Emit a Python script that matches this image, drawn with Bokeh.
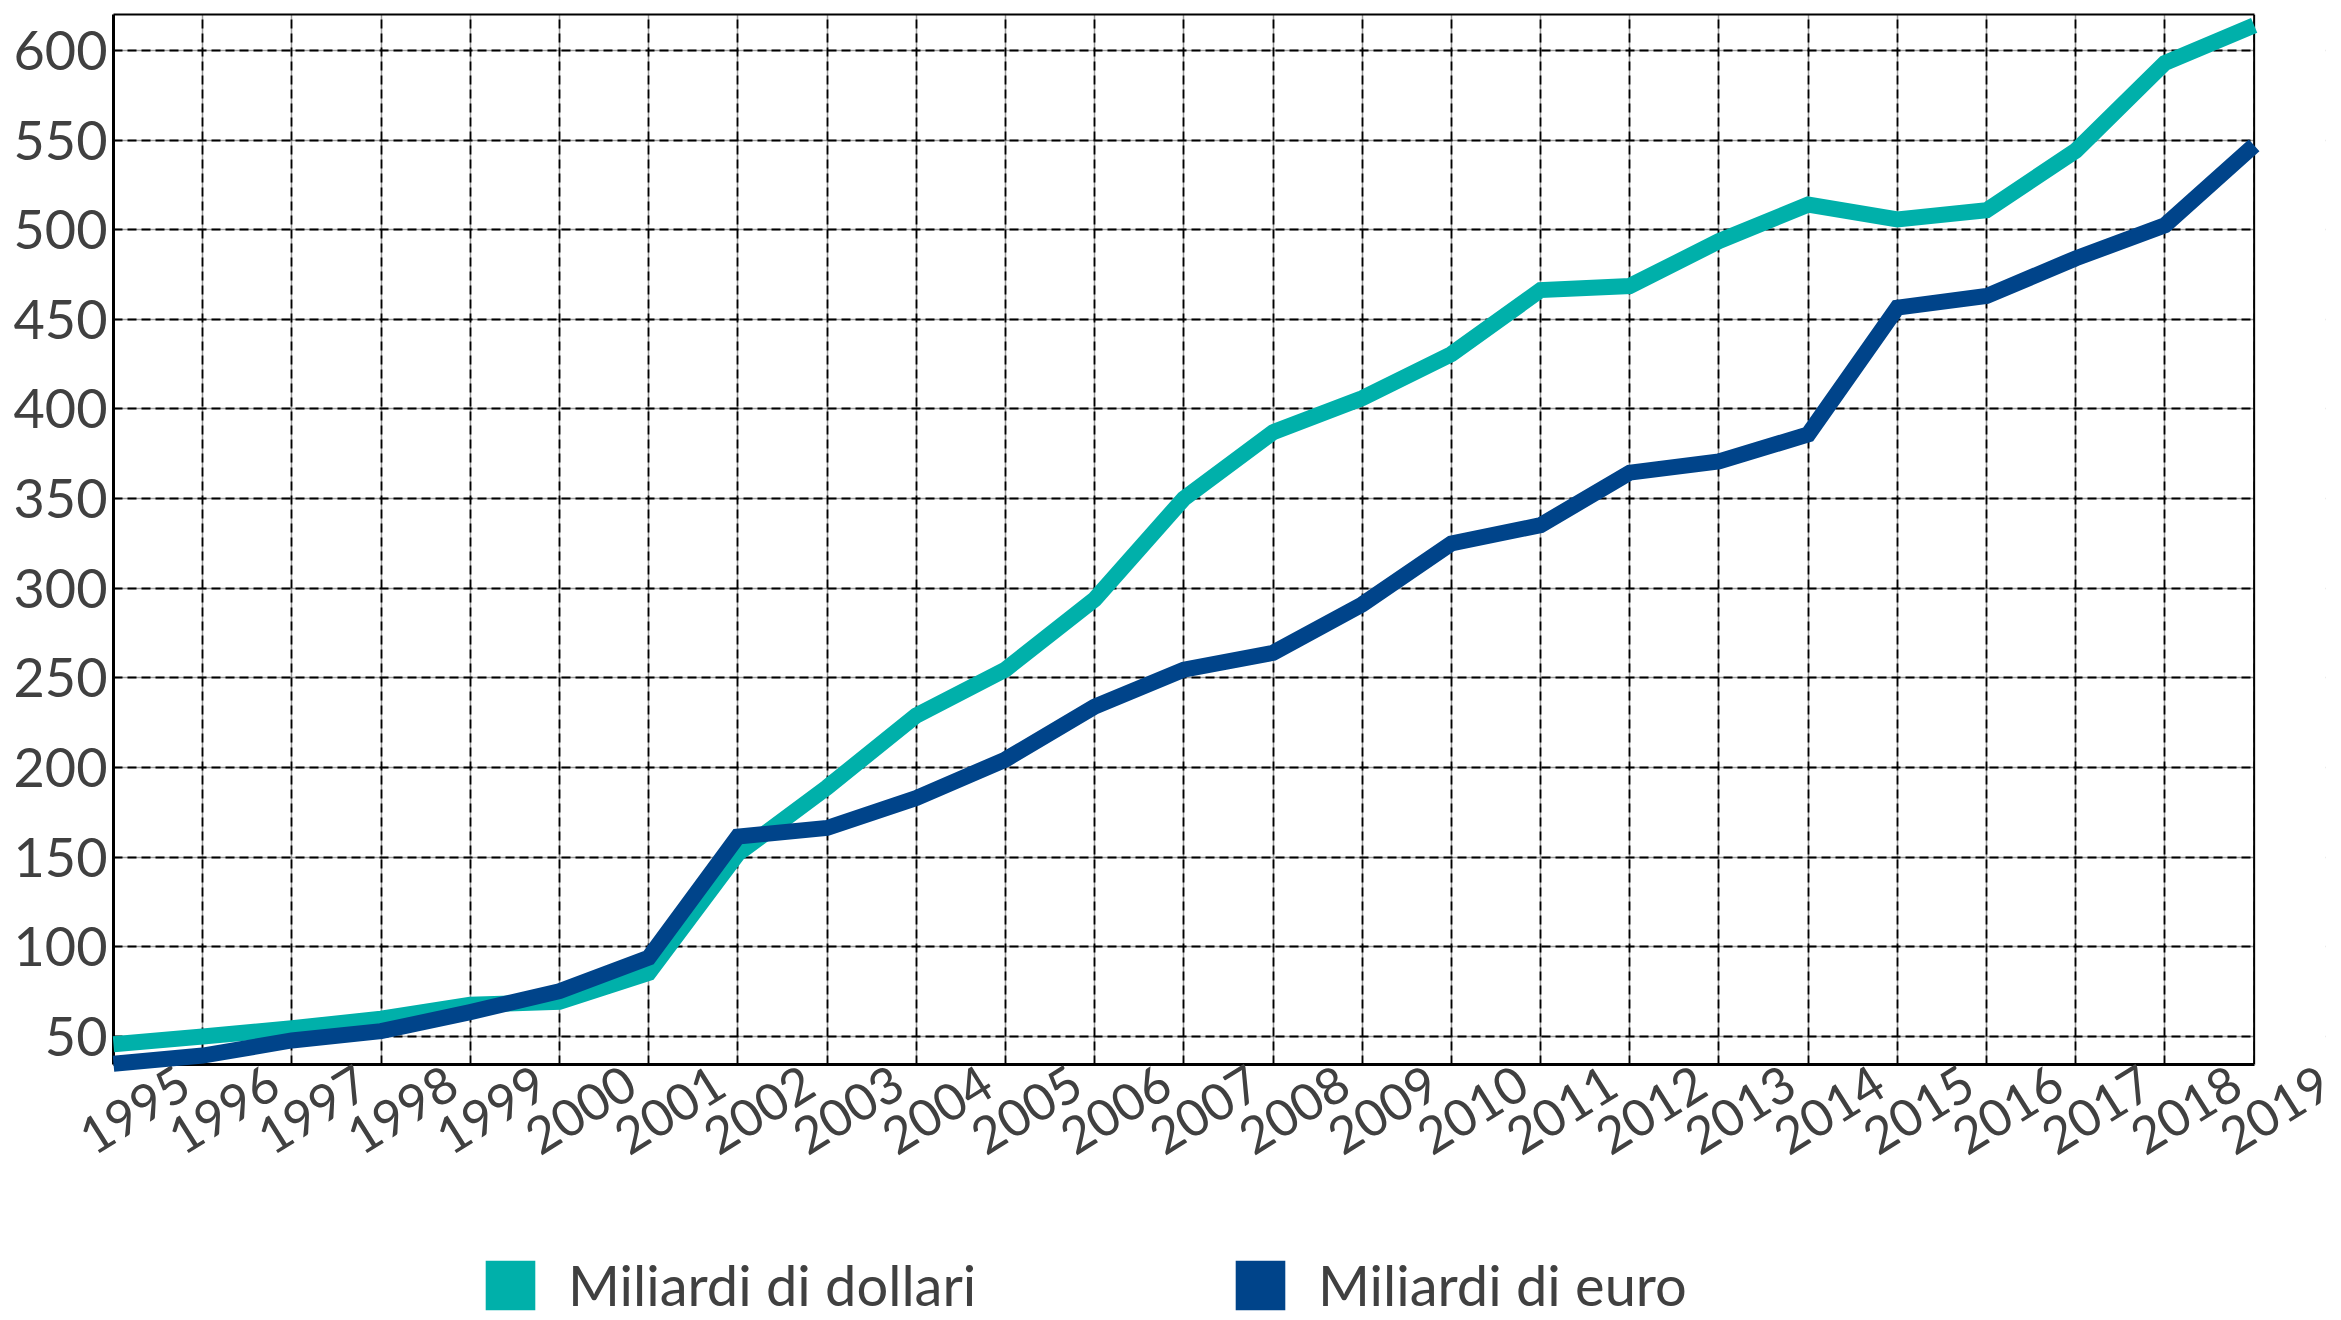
from bokeh.plotting import figure
from bokeh.layouts import column
from bokeh.models import (FixedTicker, Grid, Legend, LegendItem, Range1d,
                          LinearAxis, Span, BoxAnnotation)
from bokeh.embed import file_html
from bokeh.resources import INLINE

years = list(range(1995, 2020))
dollari = [45.7, 50, 54.6, 60, 67.7, 69.4, 85.5, 152, 189, 229, 254.7, 293.8, 350,
           387, 406, 430.6, 466.3, 468.6, 493.6, 514, 505.7, 510.8, 544, 593, 614]
euro = [34.8, 39.4, 47.8, 53, 63.6, 75.3, 94, 161.5, 166.3, 183, 204.5, 234, 254.6,
        264, 291, 325, 335.2, 364.5, 370.8, 385.8, 456.5, 463, 484, 502.5, 547]
y_ticks = [50, 100, 150, 200, 250, 300, 350, 400, 450, 500, 550, 600]
series_names = ["Miliardi di dollari", "Miliardi di euro"]
colors = ["#00B0AA", "#00448A"]

FONT = "Lato"
TXT = "#404040"
SHIFT = 0.8          # tick labels sit to the right of their tick (in years)
X0, X1 = years[0], years[-1]

W = 2341
p = figure(width=W, height=1230, output_backend="svg", toolbar_location=None,
           x_range=Range1d(X0, X1 + SHIFT), y_range=Range1d(34.4, 620),
           min_border_left=113, min_border_right=16, min_border_top=14,
           min_border_bottom=166)
p.outline_line_color = None
p.background_fill_color = "white"
p.border_fill_color = "white"
p.extra_x_ranges = {"lab": Range1d(X0 - SHIFT, X1 + 1e-6)}

# solid light grid underlay
p.xgrid.ticker = FixedTicker(ticks=years)
p.ygrid.ticker = FixedTicker(ticks=y_ticks)
for g in (p.xgrid, p.ygrid):
    g.grid_line_color = "#9a9a9a"
    g.grid_line_width = 1.5
# dashed black grid on top
for dim, tk in ((0, years), (1, y_ticks)):
    p.add_layout(Grid(dimension=dim, ticker=FixedTicker(ticks=tk),
                      grid_line_color="black", grid_line_width=1.8,
                      grid_line_dash="9 5"))


def no_ticks(ax):
    ax.major_tick_out = 0
    ax.major_tick_in = 0
    ax.minor_tick_out = 0
    ax.minor_tick_in = 0


# y axis
yax = p.yaxis[0]
yax.ticker = FixedTicker(ticks=y_ticks)
yax.axis_line_color = "black"
yax.axis_line_width = 3
no_ticks(yax)
yax.major_label_text_font = FONT
yax.major_label_text_color = TXT
yax.major_label_text_font_size = "54px"
yax.major_label_standoff = 6

# bottom axis line (no labels)
xax = p.xaxis[0]
xax.bounds = (X0, X1)
xax.ticker = FixedTicker(ticks=[])
xax.axis_line_color = "black"
xax.axis_line_width = 3
no_ticks(xax)
xax.major_label_standoff = 0

# tick labels axis (shifted so labels centre around their year)
lab = LinearAxis(x_range_name="lab", ticker=FixedTicker(ticks=years),
                 axis_line_color=None, major_label_orientation=0.56,
                 major_label_standoff=14, major_label_text_font=FONT,
                 major_label_text_color=TXT, major_label_text_font_size="51px")
no_ticks(lab)
p.add_layout(lab, "below")

# top border
top = LinearAxis(bounds=(X0, X1), ticker=FixedTicker(ticks=[]),
                 axis_line_color="black", axis_line_width=2,
                 major_label_standoff=0)
no_ticks(top)
p.add_layout(top, "above")

# mask beyond last year and right border
p.add_layout(BoxAnnotation(left=X1, fill_color="white", fill_alpha=1.0,
                           line_color=None))
p.add_layout(Span(location=X1, dimension="height", line_color="black",
                  line_width=2))

p.line(years, dollari, line_color=colors[0], line_width=16,
       line_join="miter", line_cap="butt", level="overlay")
p.line(years, euro, line_color=colors[1], line_width=16,
       line_join="miter", line_cap="butt", level="overlay")

# legend strip (its frame is aligned with the chart frame by the column)
q = figure(width=W, height=88, output_backend="svg", toolbar_location=None,
           x_range=Range1d(0, 1), y_range=Range1d(0, 1),
           x_axis_type=None, y_axis_type=None, min_border=0)
q.outline_line_color = None
q.xgrid.visible = False
q.ygrid.visible = False
q.background_fill_color = "white"
q.border_fill_color = "white"
# swatch-only renderers, placed outside the visible range
s1 = q.quad(left=[5], right=[6], top=[6], bottom=[5], fill_color=colors[0], line_color=None)
s2 = q.quad(left=[5], right=[6], top=[6], bottom=[5], fill_color=colors[1], line_color=None)
for name, sw, xloc in ((series_names[0], s1, 366), (series_names[1], s2, 1116)):
    lg = Legend(items=[LegendItem(label=name, renderers=[sw])],
                location=(xloc, 0), orientation="horizontal",
                glyph_width=62, glyph_height=62, label_height=62,
                label_standoff=27, padding=0, margin=0, spacing=0,
                border_line_color=None, background_fill_alpha=0,
                label_text_font=FONT, label_text_font_size="56px",
                label_text_color=TXT, label_text_baseline="middle")
    q.add_layout(lg, "center")

open("out.html", "w").write(file_html(column(p, q, spacing=0), INLINE))
